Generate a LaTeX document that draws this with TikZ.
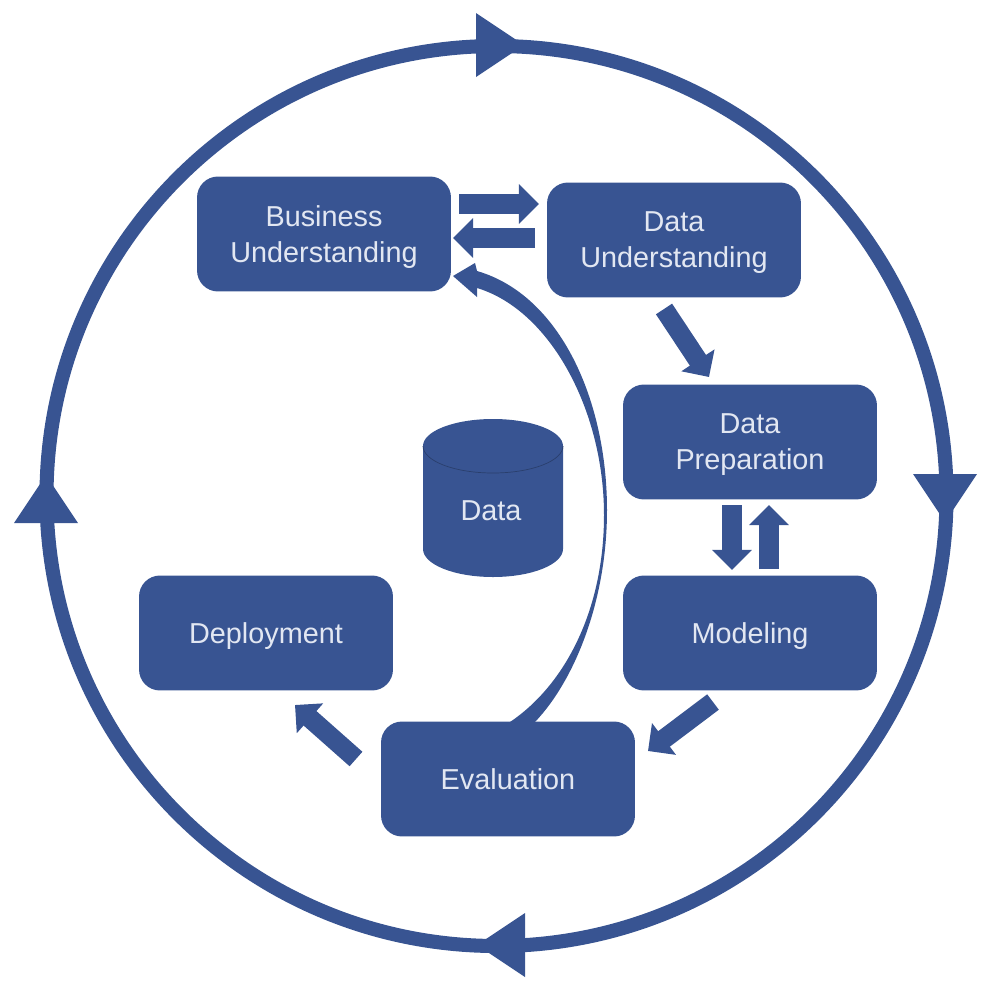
\documentclass[tikz,border=0pt]{standalone}
\usepackage{fontspec}
\usepackage{tikz}
\usepackage{xcolor}
\setmainfont{Liberation Sans}
\usetikzlibrary{arrows.meta, positioning}
\definecolor{cFlow}{RGB}{56,84,146}
\definecolor{cLabel}{RGB}{226,231,242}
\tikzset{
	phase/.style    ={rectangle, rounded corners=0.42cm, minimum width=5.08cm, minimum height=2.3cm, inner sep=0pt, align=center, fill=cFlow, text=cLabel, text depth=0pt, font=\fontsize{16.4}{20.5}\selectfont},
	storelabel/.style={inner sep=0pt, text=cLabel, font=\fontsize{16.4}{20.5}\selectfont},
	rim/.style      ={thin, cFlow!75!black},
	fat/.style      ={-{Triangle[length=11.4pt, width=22pt]}, line width=11pt, cFlow},
	ringline/.style ={line width=8pt, cFlow},
}
\begin{document}
\begin{tikzpicture}[x=0.02cm, y=-0.02cm]
	\useasboundingbox (0,0) rectangle (990,998);
	% outer cycle
	\draw[ringline] (496.5,496) circle (450);
	\foreach \x/\y/\r in {500/45/0, 945/498/-90, 501/945/180, 46/499/90}
		\fill[cFlow, shift={(\x,\y)}, rotate=\r] (-24,-32) -- (24,0) -- (-24,32) -- cycle;
	% phases
	\node[phase] (business) at (324,234) {Business\\Understanding};
	\node[phase] (understanding) at (674,240) {Data\\Understanding};
	\node[phase] (preparation) at (750,442) {Data\\Preparation};
	\node[phase] (modeling) at (750,633) {Modeling};
	\node[phase] (evaluation) at (508,779) {Evaluation};
	\node[phase] (deployment) at (266,633) {Deployment};
	% data store in the middle
	\fill[cFlow] (423,446) arc[start angle=180, end angle=360, x radius=70, y radius=27]
		-- (563,549) arc[start angle=0, end angle=180, x radius=70, y radius=28] -- cycle;
	\draw[rim] (423,446) arc[start angle=180, end angle=0, x radius=70, y radius=27];
	\node[storelabel] (dataLabel) at (491,511) {Data};
	% arrow ends
	\coordinate (bizOut) at (459,204);
	\coordinate (undIn) at (539,204);
	\coordinate (undOut) at (535,238);
	\coordinate (bizIn) at (453,238);
	\coordinate (undDown) at (664,309);
	\coordinate (prepIn) at (709,377);
	\coordinate (prepDown) at (732,505);
	\coordinate (modIn) at (732,570);
	\coordinate (modUp) at (769,569);
	\coordinate (prepUp) at (769,505);
	\coordinate (modOut) at (713,702);
	\coordinate (evalIn) at (648,751);
	\coordinate (evalOut) at (356,759);
	\coordinate (depIn) at (295,705);
	\coordinate (backTip) at (453,276);
	\draw[fat] (bizOut) -- (undIn);
	\draw[fat] (undOut) -- (bizIn);
	\draw[fat] (undDown) -- (prepIn);
	\draw[fat] (prepDown) -- (modIn);
	\draw[fat] (modUp) -- (prepUp);
	\draw[fat] (modOut) -- (evalIn);
	\draw[fat] (evalOut) -- (depIn);
	% way back from evaluation
	\fill[cFlow] (backTip) -- (475,263) -- (477,271)
		.. controls (560,295) and (607,400) .. (607,510)
		.. controls (607,600) and (575,680) .. (535,722)
		-- (510,722)
		.. controls (565,685) and (604,610) .. (604,515)
		.. controls (604,410) and (550,310) .. (477,288)
		-- (477,297) -- cycle;
\end{tikzpicture}
\end{document}
